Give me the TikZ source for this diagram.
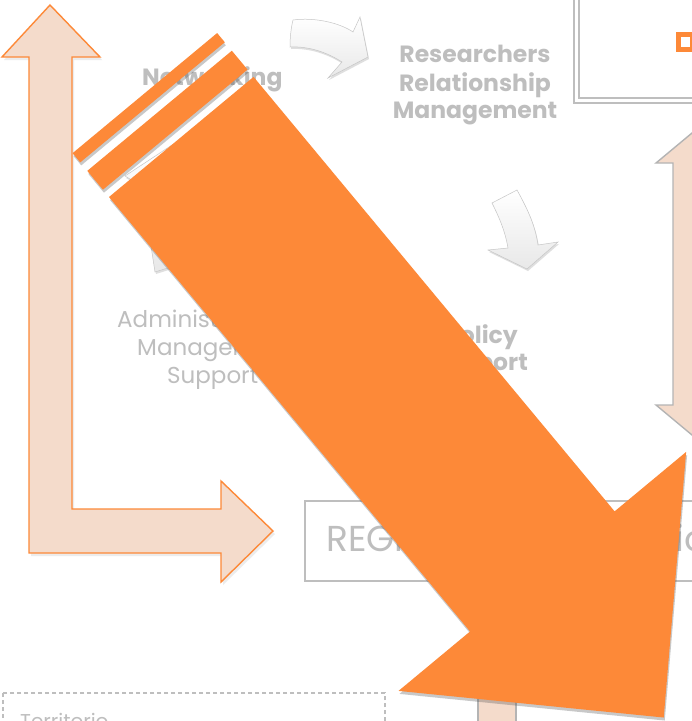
\documentclass[tikz,border=0pt]{standalone}
\usepackage{fontspec}
\setmainfont{Poppins}
\usetikzlibrary{shadows}
\definecolor{orng}{RGB}{253,137,56}
\definecolor{peach}{RGB}{244,219,203}
\definecolor{txtgray}{RGB}{190,190,190}
\definecolor{linegray}{RGB}{190,190,190}
\definecolor{edgegray}{RGB}{180,180,180}
\tikzset{
  bigorange/.style={fill=orng, draw=none, drop shadow={shadow xshift=1pt, shadow yshift=-3pt, opacity=0.3, fill=black!70}},
  peacharrow/.style={fill=peach, draw=orng, line width=1.4pt, line join=miter},
  peachgray/.style={fill=peach, draw=edgegray, line width=1.4pt},
  whitearrow/.style={top color=white, bottom color=gray!18, draw=gray!45, line width=0.5pt, drop shadow={shadow xshift=1pt, shadow yshift=-2pt, opacity=0.25}},
  boldlbl/.style={text=txtgray, font=\fontsize{23.5}{28}\selectfont\bfseries, inner sep=0pt},
  reglbl/.style={text=txtgray, font=\fontsize{23}{28}\selectfont, inner sep=0pt},
  boxline/.style={draw=linegray, line width=1.5pt}
}
\begin{document}
\begin{tikzpicture}[x=1pt, y=-1pt]
\useasboundingbox (0,0) rectangle (692,721);
\clip (0,0) rectangle (692,721);
\fill[white] (0,0) rectangle (692,721);

% labels
\node[boldlbl, anchor=base west] (net) at (142,85) {Networking};
\node[boldlbl, anchor=base] (res1) at (475,62) {Researchers};
\node[boldlbl, anchor=base] (res2) at (475,91) {Relationship};
\node[boldlbl, anchor=base] (res3) at (475,118) {Management};
\node[boldlbl, anchor=base east] (pol1) at (518,343) {Policy};
\node[boldlbl, anchor=base east] (pol2) at (528,370) {Support};
\node[reglbl, anchor=base west] (adm1) at (117,327) {Administrative};
\node[reglbl, anchor=base west] (adm2) at (137,355) {Management};
\node[reglbl, anchor=base west] (adm3) at (167,383) {Support};

% white curved arrows
\draw[whitearrow] (293,20) .. controls (315,17) and (340,23) .. (353,32) -- (360,17) -- (368,57) -- (328,78) -- (342,62) .. controls (328,53) and (310,46) .. (290,47) .. controls (290,38) and (291,28) .. (293,20) -- cycle;
\draw[whitearrow] (492,203) -- (517,190) .. controls (528,210) and (535,225) .. (538,245) -- (558,242) -- (527,269) -- (488,250) -- (508,248) .. controls (505,230) and (498,215) .. (492,203) -- cycle;
\draw[whitearrow] (155,272) .. controls (150,240) and (145,205) .. (140,185) -- (125,176) -- (172,145) -- (200,188) -- (182,188) .. controls (180,215) and (178,245) .. (174,266) -- cycle;

% top-right double box and bullet
\draw[boxline] (574,-10) rectangle (700,103);
\draw[boxline] (579,-10) rectangle (700,98);
\fill[orng] (676,32) rectangle (696,52);
\fill[white] (681,37) rectangle (690,47);

% REGI box
\draw[boxline] (305,501) rectangle (700,581);
\node[text=txtgray, font=\fontsize{36}{40}\selectfont, inner sep=0pt, anchor=base west] (reg) at (326,551) {REGIONAL\hspace{-7pt} Organization};

% Territorio dashed box
\draw[draw=linegray, line width=1.3pt, dash pattern=on 4pt off 3pt] (3,693) rectangle (385,740);
\node[reglbl, font=\fontsize{20}{24}\selectfont, anchor=base west] (terr) at (20,728) {Territorio};

% bottom peach bar
\draw[peachgray] (478,650) rectangle (516,740);

% left L arrow
\draw[peacharrow, drop shadow={shadow xshift=2pt, shadow yshift=-3pt, opacity=0.15}] (50,5) -- (100,57) -- (72,57) -- (72,509) -- (221,509) -- (221,481) -- (273,531) -- (221,582) -- (221,553) -- (29,553) -- (29,57) -- (2,57) -- cycle;

% right double arrow
\draw[peachgray] (692,133) -- (728,163) -- (711,163) -- (711,405) -- (728,405) -- (692,435) -- (656,405) -- (673,405) -- (673,163) -- (656,163) -- cycle;

% big orange arrow with stripes
\begin{scope}[shift={(109pt,-197pt)}, x={(0.639pt,-0.769pt)}, y={(0.769pt,0.639pt)}]
  \fill[bigorange] (-57,0) -- (-45,0) -- (-45,188) -- (-57,188) -- cycle;
  \fill[bigorange] (-34,0) -- (-9.5,0) -- (-9.5,188) -- (-34,188) -- cycle;
  \fill[bigorange] (0,0) -- (0,188) -- (565,188) -- (565,281) -- (755,94) -- (565,-93) -- (565,0) -- cycle;
\end{scope}
\end{tikzpicture}
\end{document}
